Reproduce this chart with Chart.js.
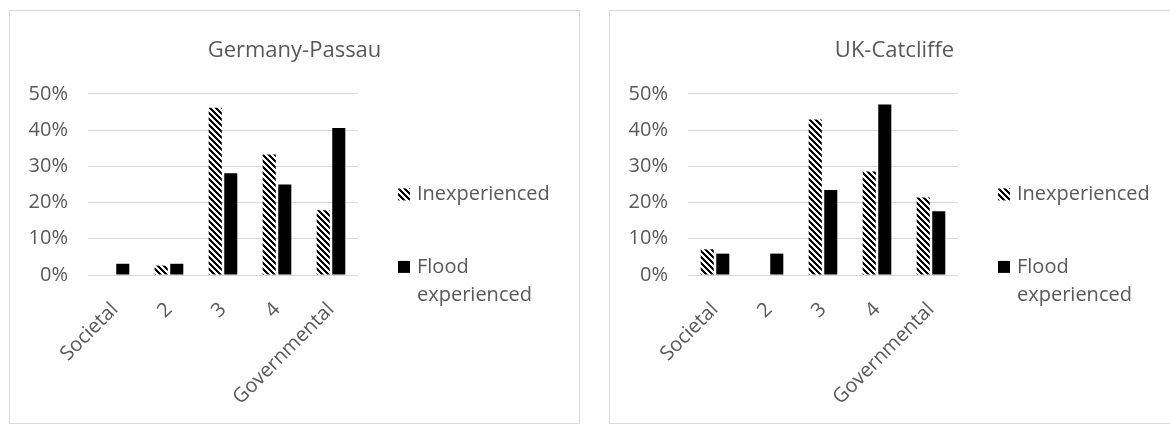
<!DOCTYPE html>
<html>
<head>
<meta charset="utf-8">
<script src="https://cdn.jsdelivr.net/npm/chart.js@4.4.0/dist/chart.umd.min.js"></script>
<style>
  html, body { margin: 0; padding: 0; background: #fff; overflow: hidden; }
  body { width: 1170px; height: 425px; position: relative; }
  .box { position: absolute; top: 10px; width: 569px; height: 412px; border: 1px solid #d9d9d9; }
  #boxLeft { left: 9px; }
  #boxRight { left: 609px; }
  canvas { display: block; }
</style>
</head>
<body>
<div class="box" id="boxLeft"><canvas id="passau" width="569" height="412"></canvas></div>
<div class="box" id="boxRight"><canvas id="catcliffe" width="569" height="412"></canvas></div>
<script>
// categories and series
const categories = ['Societal', '2', '3', '4', 'Governmental'];
const seriesLabels = ['Inexperienced', 'Flood experienced'];
const yTickValues = [0, 10, 20, 30, 40, 50];

// Germany-Passau (percent)
const passauInexperienced = [0, 2.6, 46.2, 33.3, 17.9];
const passauFlood = [3.1, 3.1, 28.1, 25.0, 40.6];

// UK-Catcliffe (percent)
const catcliffeInexperienced = [7.1, 0, 42.9, 28.6, 21.4];
const catcliffeFlood = [5.9, 5.9, 23.5, 47.1, 17.6];

const FONT = "'Open Sans', 'Noto Sans', sans-serif";
const TEXT = '#595959';

// black "wide downward diagonal" hatch
function makeHatch() {
  const c = document.createElement('canvas');
  c.width = 6; c.height = 6;
  const g = c.getContext('2d');
  const img = g.createImageData(6, 6);
  for (let y = 0; y < 6; y++) {
    for (let x = 0; x < 6; x++) {
      const on = (((x - y) % 6) + 6) % 6 < 3;
      const i = (y * 6 + x) * 4;
      const v = on ? 0 : 255;
      img.data[i] = v; img.data[i + 1] = v; img.data[i + 2] = v; img.data[i + 3] = 255;
    }
  }
  g.putImageData(img, 0, 0);
  return g.createPattern(c, 'repeat');
}
const hatch = makeHatch();

// legend drawn at the right, "Flood experienced" wraps like in Excel
const sideLegend = {
  id: 'sideLegend',
  afterDraw(chart) {
    const ctx = chart.ctx;
    const area = chart.chartArea;
    const boxX = area.right + 40;
    const textX = boxX + 19;
    const maxW = chart.width - textX - 6;
    const itemY = [area.top + 100.5, area.top + 173];
    ctx.save();
    ctx.font = '20px ' + FONT;
    ctx.textBaseline = 'middle';
    ctx.textAlign = 'left';
    chart.data.datasets.forEach((ds, i) => {
      const y = itemY[i];
      ctx.fillStyle = ds.backgroundColor;
      ctx.fillRect(boxX, y - 6, 12, 12);
      // wrap words
      const words = ds.label.split(' ');
      const lines = [];
      let cur = '';
      words.forEach(w => {
        const t = cur ? cur + ' ' + w : w;
        if (cur && ctx.measureText(t).width > maxW) { lines.push(cur); cur = w; }
        else cur = t;
      });
      lines.push(cur);
      ctx.fillStyle = TEXT;
      lines.forEach((ln, k) => ctx.fillText(ln, textX, y + k * 28));
    });
    ctx.restore();
  }
};

function makeChart(id, title, inexp, flood) {
  return new Chart(document.getElementById(id), {
    type: 'bar',
    data: {
      labels: categories,
      datasets: [
        { label: seriesLabels[0], data: inexp, backgroundColor: hatch, borderWidth: 0 },
        { label: seriesLabels[1], data: flood, backgroundColor: '#000000', borderWidth: 0 }
      ]
    },
    options: {
      responsive: false,
      animation: false,
      devicePixelRatio: 1,
      layout: { padding: 0 },
      datasets: { bar: { categoryPercentage: 0.576, barPercentage: 0.84 } },
      plugins: {
        legend: { display: false },
        tooltip: { enabled: false },
        title: {
          display: true,
          text: title,
          color: TEXT,
          font: { family: FONT, size: 22, weight: 'normal' },
          padding: { top: 27, bottom: 29.5 }
        }
      },
      scales: {
        x: {
          grid: { display: false, drawTicks: false },
          border: { display: false },
          ticks: {
            color: TEXT,
            font: { family: FONT, size: 20 },
            maxRotation: 45,
            minRotation: 45,
            padding: 23
          },
          afterFit(scale) { scale.height = 148; }
        },
        y: {
          min: 0,
          max: 50,
          afterBuildTicks(scale) { scale.ticks = yTickValues.map(v => ({ value: v })); },
          grid: { color: '#d9d9d9', lineWidth: 1, drawTicks: false },
          border: { display: false },
          ticks: {
            color: TEXT,
            font: { family: FONT, size: 20 },
            padding: 20,
            callback: v => v + '%'
          },
          afterFit(scale) { scale.width = 78; }
        },
        // empty right-hand band that holds the legend space
        legendSpace: {
          type: 'linear',
          position: 'right',
          grid: { display: false, drawTicks: false },
          border: { display: false },
          ticks: { display: false },
          afterFit(scale) { scale.width = 221; }
        }
      }
    },
    plugins: [sideLegend]
  });
}

makeChart('passau', 'Germany-Passau', passauInexperienced, passauFlood);
makeChart('catcliffe', 'UK-Catcliffe', catcliffeInexperienced, catcliffeFlood);
</script>
</body>
</html>
